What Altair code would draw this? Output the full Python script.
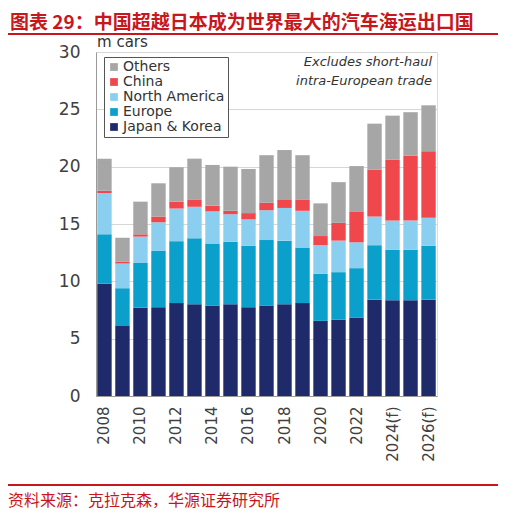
import altair as alt
import pandas as pd

years = ["2008", "2009", "2010", "2011", "2012", "2013", "2014", "2015", "2016",
         "2017", "2018", "2019", "2020", "2021", "2022", "2023", "2024(f)", "2025(f)", "2026(f)"]
shown_labels = ["2008", "2010", "2012", "2014", "2016", "2018", "2020", "2022", "2024(f)", "2026(f)"]
series_names = ["Japan & Korea", "Europe", "North America", "China", "Others"]
japan_korea = [9.8, 6.1, 7.7, 7.75, 8.1, 8.0, 7.9, 8.0, 7.75, 7.9, 8.0, 8.1, 6.55, 6.65, 6.85, 8.4, 8.35, 8.35, 8.4]
europe = [4.3, 3.3, 3.9, 4.9, 5.4, 5.75, 5.4, 5.45, 5.35, 5.7, 5.55, 4.85, 4.1, 4.15, 4.3, 4.75, 4.4, 4.4, 4.7]
north_america = [3.6, 2.15, 2.3, 2.5, 2.85, 2.75, 2.8, 2.4, 2.3, 2.6, 2.85, 3.2, 2.5, 2.75, 2.25, 2.5, 2.55, 2.55, 2.45]
china = [0.2, 0.15, 0.2, 0.5, 0.6, 0.6, 0.5, 0.3, 0.55, 0.65, 0.75, 0.95, 0.8, 1.55, 2.65, 4.1, 5.3, 5.65, 5.8]
others = [2.8, 2.1, 2.85, 2.9, 3.0, 3.6, 3.55, 3.85, 3.85, 4.15, 4.3, 3.9, 2.85, 3.55, 4.0, 4.0, 3.85, 3.8, 4.0]
colors = ["#1f2a6b", "#0aa0cb", "#8bcff0", "#f0474d", "#a6a6a6"]

title_text = "图表 29：中国超越日本成为世界最大的汽车海运出口国"
source_text = "资料来源：克拉克森，华源证券研究所"
unit_text = "m cars"
note_lines = ["Excludes short-haul", "intra-European trade"]

rows = []
for i, y in enumerate(years):
    for k, (name, vals) in enumerate(zip(series_names,
                                          [japan_korea, europe, north_america, china, others])):
        rows.append({"year": y, "series": name, "value": vals[i], "ord": k})
df = pd.DataFrame(rows)

legend_order = ["Others", "China", "North America", "Europe", "Japan & Korea"]
legend_colors = [colors[series_names.index(n)] for n in legend_order]

W, H = 341, 344
FONT = "DejaVu Sans"

bars = alt.Chart(df).mark_bar().encode(
    x=alt.X("year:N", sort=years, title=None,
            scale=alt.Scale(paddingInner=0.2, paddingOuter=0.07),
            axis=alt.Axis(values=shown_labels, labelAngle=270, labelFontSize=15,
                          labelColor="#404040", labelFont=FONT, ticks=False,
                          domainColor="#9a9a9a", labelPadding=10, grid=False)),
    y=alt.Y("value:Q", stack="zero", title=None,
            scale=alt.Scale(domain=[0, 30], nice=False),
            axis=alt.Axis(values=[0, 5, 10, 15, 20, 25, 30], labelFontSize=17,
                          labelColor="#404040", labelFont=FONT, ticks=False,
                          domainColor="#9a9a9a", gridColor="#d6d6d6",
                          labelPadding=16)),
    color=alt.Color("series:N", scale=alt.Scale(domain=legend_order, range=legend_colors),
                    legend=alt.Legend(title=None, orient="none", legendX=8, legendY=5,
                                      symbolType="square", symbolSize=60,
                                      symbolStrokeWidth=0, labelFontSize=14,
                                      labelFont=FONT, labelColor="#333333",
                                      labelOffset=2, rowPadding=1, padding=3,
                                      strokeColor="#555555", fillColor="white")),
    order=alt.Order("ord:Q", sort="ascending"),
)

def text_layer(txt, x, y, size, color, align="left", weight="normal", style="normal", font=FONT):
    return alt.Chart(pd.DataFrame({"t": [txt]})).mark_text(
        align=align, baseline="middle", fontSize=size, color=color,
        fontWeight=weight, fontStyle=style, font=font
    ).encode(text="t:N", x=alt.value(x), y=alt.value(y))

title = text_layer(title_text, -86, -29, 19, "#c8161d", weight="bold", font="Noto Sans CJK SC")
source = text_layer(source_text, -88, 449, 16, "#c8161d", font="Noto Sans CJK SC")
unit = text_layer(unit_text, 1, -10, 15, "#333333")
note1 = text_layer(note_lines[0], 336, 10, 13, "#333333", align="right", style="italic")
note2 = text_layer(note_lines[1], 336, 29, 13, "#333333", align="right", style="italic")

line_df = pd.DataFrame({"k": [0]})
top_line = alt.Chart(line_df).mark_rule(color="#c8161d", strokeWidth=2).encode(
    x=alt.value(-91), x2=alt.value(404), y=alt.value(-18))
bottom_line = alt.Chart(line_df).mark_rule(color="#c8161d", strokeWidth=2).encode(
    x=alt.value(-91), x2=alt.value(404), y=alt.value(433))

chart = alt.layer(bars, title, source, unit, note1, note2, top_line, bottom_line).properties(
    width=W, height=H,
    autosize=alt.AutoSizeParams(type="none"),
    padding={"left": 88, "top": 44, "right": 61, "bottom": 114},
).configure_view(stroke=None).configure(background="white")

chart.save("out.html", embed_options={"renderer": "svg", "actions": False})
